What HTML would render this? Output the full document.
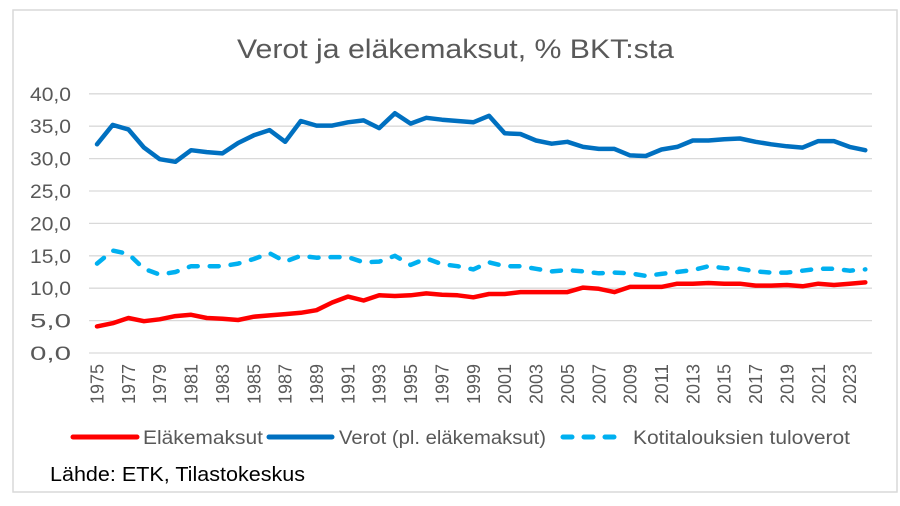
<!DOCTYPE html>
<html><head><meta charset="utf-8"><style>
html,body{margin:0;padding:0;background:#fff;}
svg{display:block;font-family:"Liberation Sans",sans-serif;}
</style></head><body>
<svg width="900" height="506" xmlns="http://www.w3.org/2000/svg">
<rect x="13" y="10" width="884" height="482" fill="#fff" stroke="#d9d9d9" stroke-width="1.5"/>
<text x="237" y="58" font-size="27" fill="#595959" textLength="437" lengthAdjust="spacingAndGlyphs">Verot ja eläkemaksut, % BKT:sta</text>
<g id="grid" stroke="#d9d9d9" stroke-width="1.3"></g>
<g id="ylab" font-size="19" fill="#595959"></g>
<g id="xlab" font-size="18" fill="#595959"></g>
<g id="lines" fill="none" stroke-linejoin="round" stroke-linecap="round"></g>
<line x1="73" y1="437" x2="137" y2="437" stroke="#ff0000" stroke-width="5" stroke-linecap="round"/>
<text x="143" y="444" font-size="19" fill="#595959" textLength="120" lengthAdjust="spacingAndGlyphs">Eläkemaksut</text>
<line x1="269" y1="437" x2="332" y2="437" stroke="#0070c0" stroke-width="5" stroke-linecap="round"/>
<text x="339" y="444" font-size="19" fill="#595959" textLength="207" lengthAdjust="spacingAndGlyphs">Verot (pl. eläkemaksut)</text>
<line x1="563" y1="437" x2="624" y2="437" stroke="#00b0f0" stroke-width="5" stroke-linecap="round" stroke-dasharray="9 12"/>
<text x="633" y="444" font-size="19" fill="#595959" textLength="217" lengthAdjust="spacingAndGlyphs">Kotitalouksien tuloverot</text>
<text x="50" y="481" font-size="20" fill="#000" textLength="255" lengthAdjust="spacingAndGlyphs">Lähde: ETK, Tilastokeskus</text>
</svg>
<script>
const ns="http://www.w3.org/2000/svg";
const Y=v=>353-v*6.48, X=i=>97+i*15.68;
const g=document.getElementById('grid'),yl=document.getElementById('ylab'),xl=document.getElementById('xlab'),L=document.getElementById('lines');
for(let v=0;v<=40;v+=5){const l=document.createElementNS(ns,'line');l.setAttribute('x1',89);l.setAttribute('x2',872);l.setAttribute('y1',Y(v));l.setAttribute('y2',Y(v));g.appendChild(l);
const t=document.createElementNS(ns,'text');t.setAttribute('x',30);t.setAttribute('y',Y(v)+7);t.setAttribute('textLength',41);t.setAttribute('lengthAdjust','spacingAndGlyphs');t.textContent=v.toFixed(1).replace('.',',');yl.appendChild(t);}
for(let y=1975;y<=2023;y+=2){const i=y-1975;const t=document.createElementNS(ns,'text');t.setAttribute('transform',`translate(${X(i)+6.5},404) rotate(-90)`);t.setAttribute('textLength',40);t.setAttribute('lengthAdjust','spacingAndGlyphs');t.textContent=y;xl.appendChild(t);}
const ver=[32.2,35.2,34.5,31.7,29.9,29.5,31.3,31.0,30.8,32.4,33.6,34.4,32.6,35.8,35.1,35.1,35.6,35.9,34.7,37.0,35.4,36.3,36.0,35.8,35.6,36.6,33.9,33.8,32.8,32.3,32.6,31.8,31.5,31.5,30.5,30.4,31.4,31.8,32.8,32.8,33.0,33.1,32.6,32.2,31.9,31.7,32.7,32.7,31.8,31.3];
const kot=[13.8,15.8,15.3,13.0,12.1,12.5,13.4,13.4,13.4,13.8,14.5,15.4,14.1,15.0,14.7,14.8,14.8,14.0,14.1,15.0,13.6,14.6,13.7,13.4,12.9,14.0,13.4,13.4,13.0,12.6,12.8,12.6,12.3,12.4,12.3,11.9,12.2,12.5,12.8,13.4,13.1,13.0,12.6,12.4,12.4,12.7,13.0,13.0,12.7,12.9];
const ela=[4.1,4.6,5.4,4.9,5.2,5.7,5.9,5.4,5.3,5.1,5.6,5.8,6.0,6.2,6.6,7.8,8.7,8.1,8.9,8.8,8.9,9.2,9.0,8.9,8.6,9.1,9.1,9.4,9.4,9.4,9.4,10.1,9.9,9.4,10.2,10.2,10.2,10.7,10.7,10.8,10.7,10.7,10.4,10.4,10.5,10.3,10.7,10.5,10.7,10.9];
function pl(d,c,dash){const p=document.createElementNS(ns,'polyline');p.setAttribute('points',d.map((v,i)=>X(i).toFixed(1)+','+Y(v).toFixed(1)).join(' '));p.setAttribute('stroke',c);p.setAttribute('stroke-width',4.5);if(dash){p.setAttribute('stroke-dasharray','9 12');}L.appendChild(p);}
pl(kot,'#00b0f0',1);pl(ela,'#ff0000');pl(ver,'#0070c0');
</script>
</body></html>
